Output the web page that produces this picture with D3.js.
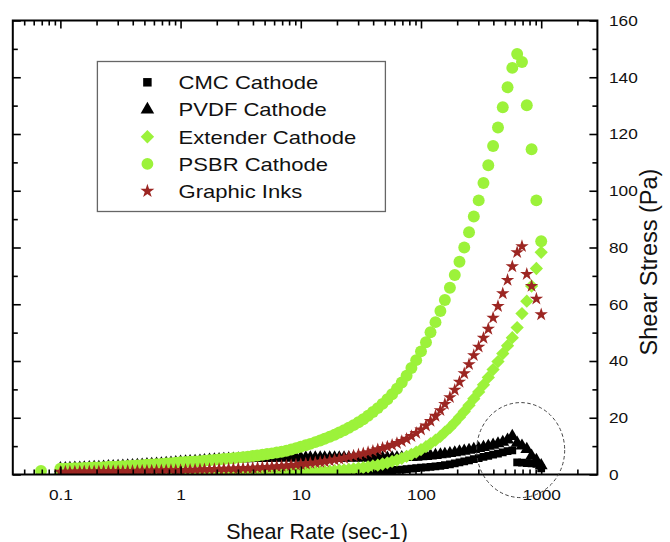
<!DOCTYPE html>
<html>
<head>
<meta charset="utf-8">
<script src="https://cdn.jsdelivr.net/npm/d3@7"></script>
<style>
  body { margin: 0; background: #fff; }
  svg { display: block; font-family: "Liberation Sans", Arial, sans-serif; }
</style>
</head>
<body>
<svg id="chart" width="670" height="542"></svg>
<script>
// shear rate sweep (1/s), shared by all samples
const shearRate = [0.069,
  0.1, 0.11, 0.12, 0.132, 0.145, 0.158, 0.174, 0.191, 0.209, 0.229, 0.251, 0.275, 0.302,
  0.331, 0.363, 0.398, 0.437, 0.479, 0.525, 0.575, 0.631, 0.692, 0.759, 0.832, 0.912, 1,
  1.1, 1.2, 1.32, 1.45, 1.58, 1.74, 1.91, 2.09, 2.29, 2.51, 2.75, 3.02, 3.31,
  3.63, 3.98, 4.37, 4.79, 5.25, 5.75, 6.31, 6.92, 7.59, 8.32, 9.12, 10,
  11, 12, 13.2, 14.5, 15.8, 17.4, 19.1, 20.9, 22.9, 25.1, 27.5, 30.2, 33.1,
  36.3, 39.8, 43.7, 47.9, 52.5, 57.5, 63.1, 69.2, 75.9, 83.2, 91.2, 100,
  110, 120, 132, 145, 158, 174, 191, 209, 229, 251, 275, 302, 331,
  363, 398, 437, 479, 525, 575, 631, 692, 759, 832, 912, 1000];

// shear stress (Pa), null = no point
const cmcCathode = [null,
  null, null, null, null, null, null, null, null, null, null, null, null, null,
  null, null, null, null, null, null, null, null, null, null, null, null, null,
  null, null, null, null, null, null, null, null, null, null, null, null, null,
  null, null, null, null, null, null, null, null, null, null, null, 0.15,
  0.2, 0.22, 0.25, 0.28, 0.3, 0.34, 0.38, 0.42, 0.46, 0.5, 0.6, 0.7, 0.8,
  0.9, 1.0, 1.1, 1.2, 1.35, 1.45, 1.6, 1.75, 1.9, 2.1, 2.25, 2.4,
  2.55, 2.7, 2.85, 3.0, 3.3, 3.6, 3.95, 4.3, 4.65, 5.0, 5.4, 5.8, 6.2,
  6.6, 7.0, 7.4, 7.8, 8.2, 8.5, 4.3, 4.2, 4.0, 3.9, 3.7, 2.2];

const pvdfCathode = [null,
  2.1, 2.15, 2.2, 2.3, 2.35, 2.4, 2.5, 2.55, 2.6, 2.7, 2.8, 2.85, 2.9,
  3.0, 3.1, 3.2, 3.3, 3.4, 3.55, 3.65, 3.75, 3.85, 4.0, 4.1, 4.25, 4.4,
  4.5, 4.6, 4.7, 4.8, 4.95, 5.1, 5.2, 5.3, 5.4, 5.45, 5.5, 5.55, 5.6,
  5.65, 5.7, 5.7, 5.75, 5.75, 5.8, 5.8, 5.85, 5.85, 5.9, 5.9, 5.9,
  5.9, 5.9, 5.9, 5.9, 5.9, 5.9, 5.9, 5.9, 5.9, 5.9, 5.9, 5.85, 5.85,
  5.85, 5.8, 5.8, 5.8, 5.85, 5.9, 5.95, 6.0, 6.05, 6.1, 6.2, 6.3,
  6.45, 6.6, 6.8, 7.0, 7.2, 7.45, 7.7, 8.0, 8.3, 8.6, 8.9, 9.2, 9.6,
  10.0, 10.4, 10.9, 11.4, 12.2, 13.5, 11.1, 10.1, 8.9, 6.5, 5.0, 3.2];

const extenderCathode = [null,
  0.3, 0.3, 0.3, 0.3, 0.3, 0.3, 0.32, 0.32, 0.33, 0.33, 0.34, 0.34, 0.35,
  0.35, 0.36, 0.36, 0.37, 0.37, 0.38, 0.38, 0.39, 0.4, 0.4, 0.41, 0.42, 0.43,
  0.44, 0.45, 0.46, 0.47, 0.48, 0.49, 0.5, 0.51, 0.52, 0.53, 0.54, 0.55, 0.56,
  0.57, 0.58, 0.59, 0.6, 0.61, 0.62, 0.63, 0.64, 0.65, 0.67, 0.69, 0.71,
  0.75, 0.8, 0.9, 1.0, 1.1, 1.2, 1.35, 1.5, 1.65, 1.8, 2.0, 2.2, 2.45,
  2.7, 3.0, 3.3, 3.7, 4.1, 4.6, 5.1, 5.7, 6.4, 7.1, 7.9, 8.8,
  9.8, 10.9, 12.1, 13.4, 14.9, 16.5, 18.3, 20.2, 22.2, 24.4, 26.7, 29.1, 31.6,
  34.2, 37.0, 39.8, 42.6, 45.4, 48.2, 51.8, 56.7, 61.1, 66.4, 72.6, 78.3];

const psbrCathode = [1.2,
  2.0, 2.05, 2.1, 2.2, 2.25, 2.3, 2.4, 2.45, 2.5, 2.6, 2.7, 2.75, 2.8,
  2.9, 3.0, 3.1, 3.2, 3.3, 3.45, 3.55, 3.65, 3.75, 3.9, 4.0, 4.15, 4.3,
  4.4, 4.5, 4.6, 4.7, 4.85, 5.0, 5.15, 5.3, 5.45, 5.6, 5.75, 5.95, 6.1,
  6.3, 6.5, 6.7, 6.95, 7.2, 7.45, 7.75, 8.05, 8.4, 8.8, 9.3, 9.8,
  10.3, 10.8, 11.4, 12.0, 12.6, 13.3, 14.0, 14.8, 15.6, 16.5, 17.4, 18.4, 19.5,
  20.7, 22.0, 23.4, 24.9, 26.5, 28.3, 30.2, 32.4, 34.8, 37.5, 40.3, 43.4,
  46.6, 50.1, 53.7, 57.6, 61.5, 65.8, 70.3, 75.0, 80.0, 85.4, 90.9, 96.6, 102.7,
  109.0, 115.8, 122.3, 129.4, 136.5, 143.3, 148.2, 145.4, 130.1, 114.6, 96.6, 82.2];

const graphicInks = [null,
  0.9, 0.92, 0.94, 0.96, 0.98, 1.0, 1.02, 1.04, 1.06, 1.08, 1.1, 1.12, 1.14,
  1.16, 1.18, 1.2, 1.23, 1.26, 1.29, 1.32, 1.35, 1.38, 1.41, 1.44, 1.47, 1.5,
  1.55, 1.6, 1.65, 1.7, 1.75, 1.8, 1.85, 1.9, 1.95, 2.0, 2.05, 2.1, 2.15,
  2.2, 2.3, 2.4, 2.5, 2.6, 2.7, 2.8, 2.95, 3.1, 3.25, 3.4, 3.6,
  3.8, 4.0, 4.2, 4.4, 4.6, 4.9, 5.2, 5.5, 5.8, 6.2, 6.6, 7.0, 7.4,
  7.8, 8.3, 8.8, 9.3, 9.8, 10.4, 11.0, 11.7, 12.5, 13.5, 14.6, 15.8,
  17.2, 18.8, 20.6, 22.6, 24.8, 27.2, 29.8, 32.6, 35.6, 38.8, 42.0, 45.0, 48.1,
  51.3, 55.2, 59.3, 63.8, 68.5, 73.3, 78.3, 80.4, 70.6, 66.4, 61.9, 56.4];

const seriesNames = ['CMC Cathode', 'PVDF Cathode', 'Extender Cathode', 'PSBR Cathode', 'Graphic Inks'];
const xTicks = [0.1, 1, 10, 100, 1000];
const yTicks = [0, 20, 40, 60, 80, 100, 120, 140, 160];

// dashed ring drawn around the high-rate end of the black curves
const ringCentre = { rate: 675, stress: 8.6 };

const green = '#9cf23a';
const darkRed = '#9c2622';

const series = [
  { name: seriesNames[0], values: cmcCathode, shape: 'square', color: '#000', size: 60 },
  { name: seriesNames[1], values: pvdfCathode, shape: 'triangle', color: '#000', size: 72 },
  { name: seriesNames[2], values: extenderCathode, shape: 'diamond', color: green, size: 88 },
  { name: seriesNames[3], values: psbrCathode, shape: 'circle', color: green, size: 112 },
  { name: seriesNames[4], values: graphicInks, shape: 'star', color: darkRed, size: 56 }
];

const symbolTypes = {
  square: d3.symbolSquare,
  triangle: d3.symbolTriangle,
  diamond: d3.symbolSquare, // rotated 45deg below
  circle: d3.symbolCircle,
  star: d3.symbolStar
};

const svg = d3.select('#chart');
svg.append('rect').attr('width', 670).attr('height', 542).attr('fill', '#fff');

const x = d3.scaleLog().domain([0.0402, 2935]).range([12.8, 597.4]);
const y = d3.scaleLinear().domain([0, 160]).range([474.5, 20.5]);

const plotLeft = x.range()[0], plotRight = x.range()[1];
const plotTop = y.range()[1], plotBottom = y.range()[0];

svg.append('clipPath').attr('id', 'plotClip')
  .append('rect')
  .attr('x', plotLeft).attr('y', plotTop)
  .attr('width', plotRight - plotLeft).attr('height', plotBottom - plotTop);

const marks = svg.append('g').attr('clip-path', 'url(#plotClip)');

const symbolPath = (shape, size) => d3.symbol().type(symbolTypes[shape]).size(size)();

series.forEach(s => {
  const pts = shearRate
    .map((r, i) => ({ rate: r, stress: s.values[i] }))
    .filter(d => d.stress !== null);
  const rot = s.shape === 'diamond' ? ' rotate(45)' : '';
  marks.append('g')
    .selectAll('path')
    .data(pts)
    .enter()
    .append('path')
    .attr('d', symbolPath(s.shape, s.size))
    .attr('transform', d => `translate(${x(d.rate)},${y(d.stress)})${rot}`)
    .attr('fill', s.color);
});

// minor ticks
const minorX = [];
for (let p = -2; p <= 3; p++) {
  for (let m = 2; m <= 9; m++) {
    const v = +(m * Math.pow(10, p)).toPrecision(3);
    if (v >= x.domain()[0] && v <= x.domain()[1]) minorX.push(v);
  }
}
const minorY = [10, 30, 50, 70, 90, 110, 130, 150];

const axes = svg.append('g');
const tickStyle = g => {
  g.select('.domain').remove();
  g.selectAll('line').attr('stroke', '#000').attr('stroke-width', 1.6);
};

const addAxis = (axis, tx, ty) => axes.append('g')
  .attr('transform', `translate(${tx},${ty})`)
  .call(axis)
  .call(tickStyle);

// bottom
const xLabels = addAxis(d3.axisBottom(x).tickValues(xTicks).tickSizeInner(-8).tickSizeOuter(0)
  .tickPadding(14.5).tickFormat(d => String(d)), 0, plotBottom);
addAxis(d3.axisBottom(x).tickValues(minorX).tickSizeInner(-5).tickSizeOuter(0).tickFormat(''), 0, plotBottom);
// top
addAxis(d3.axisTop(x).tickValues(xTicks).tickSizeInner(-8).tickSizeOuter(0).tickFormat(''), 0, plotTop);
addAxis(d3.axisTop(x).tickValues(minorX).tickSizeInner(-5).tickSizeOuter(0).tickFormat(''), 0, plotTop);
// left
addAxis(d3.axisLeft(y).tickValues(yTicks).tickSizeInner(-8).tickSizeOuter(0).tickFormat(''), plotLeft, 0);
addAxis(d3.axisLeft(y).tickValues(minorY).tickSizeInner(-5).tickSizeOuter(0).tickFormat(''), plotLeft, 0);
// right, with labels
const yLabels = addAxis(d3.axisRight(y).tickValues(yTicks).tickSizeInner(-8).tickSizeOuter(0)
  .tickPadding(11.6).tickFormat(d => String(d)), plotRight, 0);
addAxis(d3.axisRight(y).tickValues(minorY).tickSizeInner(-5).tickSizeOuter(0).tickFormat(''), plotRight, 0);

const labelScale = 1.15;
[xLabels, yLabels].forEach(g => g.selectAll('text')
  .attr('font-family', '"Liberation Sans", Arial, sans-serif')
  .attr('font-size', 15)
  .attr('fill', '#111')
  .attr('transform', `scale(${labelScale},1)`));
yLabels.selectAll('text').attr('x', 11.6 / labelScale);

// frame
svg.append('rect')
  .attr('x', plotLeft).attr('y', plotTop)
  .attr('width', plotRight - plotLeft).attr('height', plotBottom - plotTop)
  .attr('fill', 'none').attr('stroke', '#000').attr('stroke-width', 2);

// dashed ring
svg.append('ellipse')
  .attr('cx', x(ringCentre.rate)).attr('cy', y(ringCentre.stress))
  .attr('rx', 44).attr('ry', 47.5)
  .attr('fill', 'none').attr('stroke', '#444').attr('stroke-width', 1)
  .attr('stroke-dasharray', '3.5,2.5');

// axis titles
svg.append('text')
  .attr('x', 317).attr('y', 538.5)
  .attr('text-anchor', 'middle')
  .attr('font-size', 21.5)
  .attr('fill', '#111')
  .text('Shear Rate (sec-1)');

svg.append('text')
  .attr('transform', 'translate(657,262) rotate(-90)')
  .attr('text-anchor', 'middle')
  .attr('font-size', 23.5)
  .attr('fill', '#111')
  .text('Shear Stress (Pa)');

// legend
const legend = svg.append('g');
legend.append('rect')
  .attr('x', 97.4).attr('y', 61.5).attr('width', 288).attr('height', 150)
  .attr('fill', '#fff').attr('stroke', '#666').attr('stroke-width', 1.3);

const legendSizes = [72, 80, 90, 110, 60];
series.forEach((s, i) => {
  const cy = 82.3 + i * 27.2;
  const rot = s.shape === 'diamond' ? ' rotate(45)' : '';
  legend.append('path')
    .attr('d', symbolPath(s.shape, legendSizes[i]))
    .attr('transform', `translate(147.4,${cy})${rot}`)
    .attr('fill', s.color);
  legend.append('text')
    .attr('transform', `translate(178.6,${cy + 6.8}) scale(1.16,1)`)
    .attr('font-size', 19)
    .attr('fill', '#111')
    .text(s.name);
});
</script>
</body>
</html>
